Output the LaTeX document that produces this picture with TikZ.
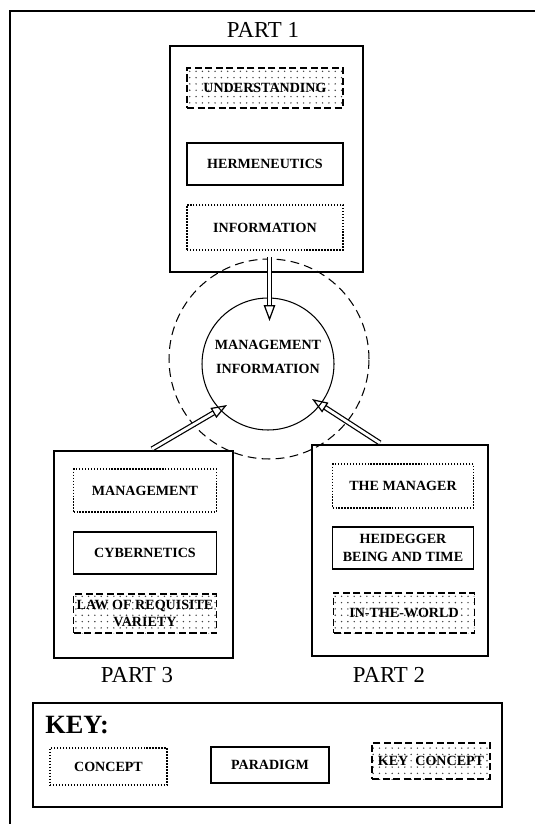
\documentclass[tikz,border=0pt]{standalone}
\usepackage{fontspec}
\setmainfont{Liberation Serif}
\usetikzlibrary{patterns.meta,arrows.meta}

\tikzset{
  box/.style={font=\fontsize{8}{10}\selectfont\bfseries, align=center, inner sep=1pt},
  concept/.style={box, draw, densely dotted, line width=0.7pt},
  paradigm/.style={box, draw, line width=0.6pt},
  keyconcept/.style={box, draw, dash pattern=on 4pt off 2pt, line width=0.7pt, pattern={Dots[distance=3.6pt, radius=0.45pt]}, pattern color=black!75},
  partbox/.style={draw, line width=0.8pt},
  parttitle/.style={font=\fontsize{13}{15}\selectfont},
  hollow/.style={double, double distance=1.6pt, line width=0.7pt, -{Triangle[open, length=9pt, width=6.5pt]}}
}

\begin{document}
\begin{tikzpicture}[x=0.02cm, y=-0.02cm]
  \useasboundingbox (0,0) rectangle (535,824);
  \draw[line width=0.8pt] (10,824) -- (10,11) -- (535,11);

  % part 1
  \node[parttitle] (t1) at (263,30) {PART 1};
  \node[partbox, minimum width=3.86cm, minimum height=4.52cm] (p1) at (266.5,159) {};
  \node[keyconcept, minimum width=3.12cm, minimum height=0.8cm] (und) at (265,88) {UNDERSTANDING};
  \node[paradigm, minimum width=3.12cm, minimum height=0.84cm] (herm) at (265,164) {HERMENEUTICS};
  \node[concept, minimum width=3.12cm, minimum height=0.9cm] (info) at (265,227.5) {INFORMATION};

  % centre
  \node[draw, circle, dash pattern=on 5pt off 3pt, line width=0.6pt, minimum size=4cm] (ring) at (269,359) {};
  \node[draw, circle, line width=0.6pt, minimum size=2.64cm] (mi) at (268,364) {};
  \node[box] (mitext) at (268,357) {MANAGEMENT\\[3.5pt]INFORMATION};

  % part 3
  \node[partbox, minimum width=3.58cm, minimum height=4.14cm] (p3) at (143.5,554.5) {};
  \node[concept, minimum width=2.86cm, minimum height=0.86cm] (mgmt) at (145,490.5) {MANAGEMENT};
  \node[paradigm, minimum width=2.86cm, minimum height=0.84cm] (cyb) at (145,553) {CYBERNETICS};
  \node[keyconcept, minimum width=2.86cm, minimum height=0.78cm] (law) at (145,613.5) {LAW OF REQUISITE\\VARIETY};
  \node[parttitle] (t3) at (137,675) {PART 3};

  % part 2
  \node[partbox, minimum width=3.52cm, minimum height=4.22cm] (p2) at (400,550.5) {};
  \node[concept, minimum width=2.82cm, minimum height=0.88cm] (mgr) at (403,486) {THE MANAGER};
  \node[paradigm, minimum width=2.82cm, minimum height=0.84cm] (heid) at (403,548) {HEIDEGGER\\BEING AND TIME};
  \node[keyconcept, minimum width=2.82cm, minimum height=0.8cm] (itw) at (404,613) {IN-THE-WORLD};
  \node[parttitle] (t2) at (389,675) {PART 2};

  % arrows into the centre
  \coordinate (a1s) at (269.5,257);
  \coordinate (a1e) at (269.5,321);
  \coordinate (a3s) at (152,449);
  \coordinate (a3e) at (227,405);
  \coordinate (a2s) at (380,443);
  \coordinate (a2e) at (312,399);
  \draw[hollow] (a1s) -- (a1e);
  \draw[hollow] (a3s) -- (a3e);
  \draw[hollow] (a2s) -- (a2e);

  % key
  \node[partbox, line width=0.7pt, minimum width=9.38cm, minimum height=2.08cm] (key) at (267.5,755) {};
  \node[anchor=west, inner sep=0pt, font=\fontsize{15}{17}\selectfont\bfseries] (keytitle) at (45,725) {KEY:};
  \node[concept, minimum width=2.34cm, minimum height=0.74cm] (kc) at (108.5,766.5) {CONCEPT};
  \node[paradigm, minimum width=2.36cm, minimum height=0.72cm] (kp) at (270,765) {PARADIGM};
  \node[keyconcept, minimum width=2.36cm, minimum height=0.72cm] (kk) at (431,761) {KEY\ \ CONCEPT};
\end{tikzpicture}
\end{document}
